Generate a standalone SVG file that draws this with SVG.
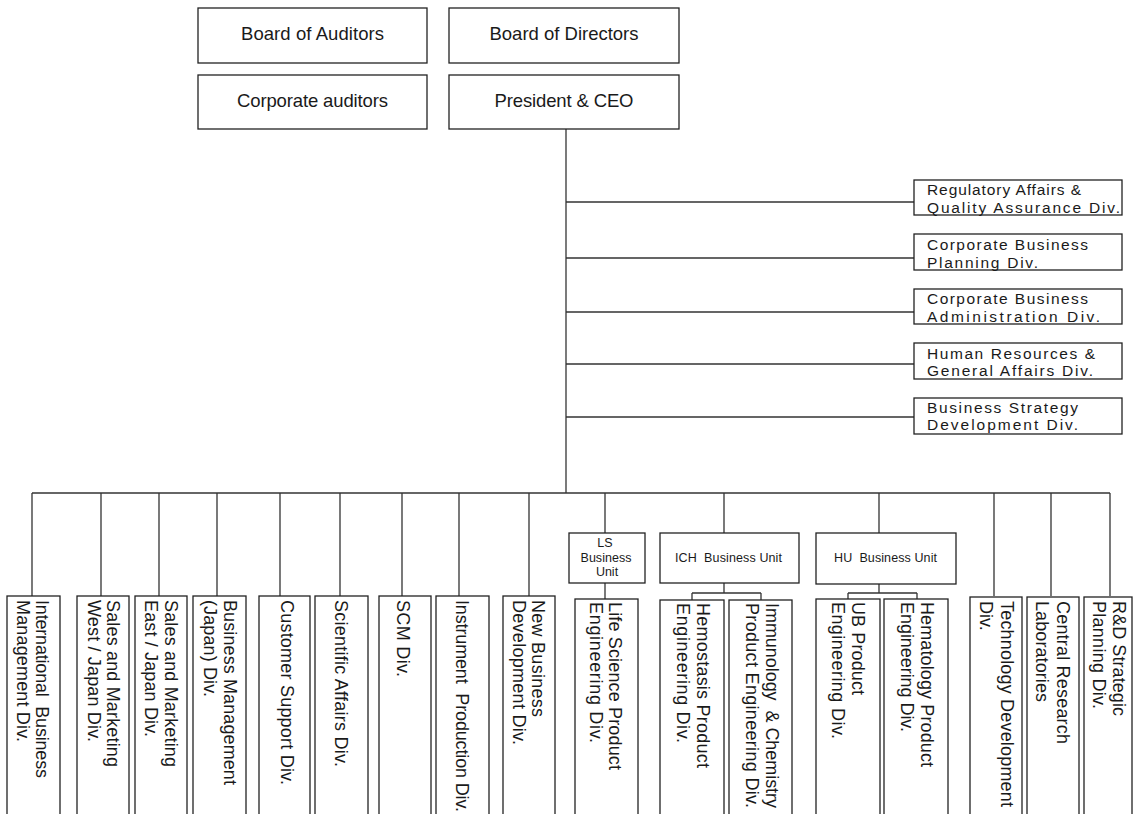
<svg xmlns="http://www.w3.org/2000/svg" width="1134" height="814" viewBox="0 0 1134 814">
<style>
.bx{fill:#fff;stroke:#222;stroke-width:1.3}
.ln{fill:none;stroke:#333;stroke-width:1.3}
text{font-family:"Liberation Sans",Arial,sans-serif;fill:#1a1a1a}
.t{font-size:18.5px;text-anchor:middle}
.r{font-size:15.5px}
.v{font-size:18px}
.u{font-size:12.5px;text-anchor:middle}
</style>
<rect width="1134" height="814" fill="#fff"/>
<g id="connectors">
<path class="ln" d="M566 129V493"/>
<path class="ln" d="M566 202H914M566 258H914M566 312H914M566 364H914M566 417H914"/>
<path class="ln" d="M32 493H1110"/>
<path class="ln" d="M32 493V596M101 493V596M159 493V596M217 493V596M280 493V596M340 493V596M402 493V596M459 493V596M529 493V596M994 493V596M1051 493V596M1110 493V596"/>
<path class="ln" d="M605 493V533M724 493V533M879 493V533"/>
<path class="ln" d="M605 583V599"/>
<path class="ln" d="M724 583V593M692 593H761M692 593V600M761 593V600"/>
<path class="ln" d="M879 584V593M848 593H917M848 593V599M917 593V599"/>
</g>
<g id="board-auditors"><rect class="bx" x="198" y="8" width="229" height="55"/><text class="t" x="312.5" y="40" textLength="143">Board of Auditors</text></g>
<g id="board-directors"><rect class="bx" x="449" y="8" width="230" height="55"/><text class="t" x="564" y="40" textLength="149">Board of Directors</text></g>
<g id="corporate-auditors"><rect class="bx" x="198" y="75" width="229" height="54"/><text class="t" x="312.5" y="107" textLength="151">Corporate auditors</text></g>
<g id="president"><rect class="bx" x="449" y="75" width="230" height="54"/><text class="t" x="564" y="107" textLength="139">President &amp; CEO</text></g>

<g id="regulatory"><rect class="bx" x="914" y="180" width="208" height="35"/><text class="r" x="927" y="195" textLength="154">Regulatory Affairs &amp;</text><text class="r" x="927" y="212.5" textLength="193">Quality Assurance Div.</text></g>
<g id="corp-planning"><rect class="bx" x="914" y="234" width="208" height="36"/><text class="r" x="927" y="250" textLength="161">Corporate Business</text><text class="r" x="927" y="267.5" textLength="111">Planning Div.</text></g>
<g id="corp-admin"><rect class="bx" x="914" y="289" width="208" height="35"/><text class="r" x="927" y="304" textLength="161">Corporate Business</text><text class="r" x="927" y="321.5" textLength="173">Administration Div.</text></g>
<g id="hr"><rect class="bx" x="914" y="343" width="208" height="36"/><text class="r" x="927" y="358.5" textLength="168">Human Resources &amp;</text><text class="r" x="927" y="376" textLength="166">General Affairs Div.</text></g>
<g id="bsd"><rect class="bx" x="914" y="398" width="208" height="36"/><text class="r" x="927" y="412.5" textLength="151">Business Strategy</text><text class="r" x="927" y="430" textLength="151">Development Div.</text></g>

<g id="ls-unit"><rect class="bx" x="569" y="533" width="76" height="50"/><text class="u" x="605" y="547">LS</text><text class="u" x="606" y="562" textLength="51">Business</text><text class="u" x="607" y="576">Unit</text></g>
<g id="ich-unit"><rect class="bx" x="660" y="533" width="139" height="50"/><text class="u" x="728.5" y="562" textLength="107" xml:space="preserve">ICH  Business Unit</text></g>
<g id="hu-unit"><rect class="bx" x="816" y="533" width="140" height="51"/><text class="u" x="885.5" y="562" textLength="103" xml:space="preserve">HU  Business Unit</text></g>

<g id="intl"><rect class="bx" x="7" y="596" width="53" height="240"/><text class="v" transform="translate(36,600) rotate(90)" textLength="178" xml:space="preserve">International  Business</text><text class="v" transform="translate(17,600) rotate(90)" textLength="142">Management Div.</text></g>
<g id="sales-west"><rect class="bx" x="77" y="596" width="52" height="240"/><text class="v" transform="translate(107,600) rotate(90)" textLength="167">Sales and Marketing</text><text class="v" transform="translate(88,600) rotate(90)" textLength="142">West / Japan Div.</text></g>
<g id="sales-east"><rect class="bx" x="135" y="596" width="52" height="240"/><text class="v" transform="translate(165,600) rotate(90)" textLength="167">Sales and Marketing</text><text class="v" transform="translate(145,600) rotate(90)" textLength="137">East / Japan Div.</text></g>
<g id="bm-japan"><rect class="bx" x="193" y="596" width="53" height="240"/><text class="v" transform="translate(224,600) rotate(90)" textLength="185">Business Management</text><text class="v" transform="translate(204,600) rotate(90)" textLength="97">(Japan) Div.</text></g>
<g id="customer"><rect class="bx" x="259" y="596" width="51" height="240"/><text class="v" transform="translate(281,600) rotate(90)" textLength="185">Customer Support Div.</text></g>
<g id="scientific"><rect class="bx" x="315" y="596" width="53" height="240"/><text class="v" transform="translate(335,600) rotate(90)" textLength="167">Scientific Affairs Div.</text></g>
<g id="scm"><rect class="bx" x="379" y="596" width="52" height="240"/><text class="v" transform="translate(397,600) rotate(90)" textLength="77">SCM Div.</text></g>
<g id="instrument"><rect class="bx" x="436" y="596" width="53" height="240"/><text class="v" transform="translate(456,600) rotate(90)" textLength="212" xml:space="preserve">Instrument  Production Div.</text></g>
<g id="new-business"><rect class="bx" x="503" y="596" width="52" height="240"/><text class="v" transform="translate(532,600) rotate(90)" textLength="117">New Business</text><text class="v" transform="translate(513,600) rotate(90)" textLength="145">Development Div.</text></g>
<g id="life-science"><rect class="bx" x="575" y="599" width="63" height="240"/><text class="v" transform="translate(609,602) rotate(90)" textLength="168">Life Science Product</text><text class="v" transform="translate(590,602) rotate(90)" textLength="141">Engineering Div.</text></g>
<g id="hemostasis"><rect class="bx" x="660" y="600" width="64" height="240"/><text class="v" transform="translate(697,603) rotate(90)" textLength="165">Hemostasis Product</text><text class="v" transform="translate(677,603) rotate(90)" textLength="140">Engineering Div.</text></g>
<g id="immunology"><rect class="bx" x="729" y="600" width="63" height="240"/><text class="v" transform="translate(766,603) rotate(90)" textLength="205" xml:space="preserve">Immunology  &amp; Chemistry</text><text class="v" transform="translate(746,603) rotate(90)" textLength="205">Product Engineering Div.</text></g>
<g id="ub"><rect class="bx" x="816" y="599" width="64" height="240"/><text class="v" transform="translate(852,602) rotate(90)" textLength="93">UB Product</text><text class="v" transform="translate(832,602) rotate(90)" textLength="137">Engineering Div.</text></g>
<g id="hematology"><rect class="bx" x="884" y="599" width="64" height="240"/><text class="v" transform="translate(921,602) rotate(90)" textLength="165">Hematology Product</text><text class="v" transform="translate(901,602) rotate(90)" textLength="130">Engineering Div.</text></g>
<g id="technology"><rect class="bx" x="970" y="597" width="52" height="240"/><text class="v" transform="translate(1001,601) rotate(90)" textLength="206">Technology Development</text><text class="v" transform="translate(980,601) rotate(90)">Div.</text></g>
<g id="central-research"><rect class="bx" x="1027" y="597" width="52" height="240"/><text class="v" transform="translate(1057,601) rotate(90)" textLength="143">Central Research</text><text class="v" transform="translate(1036,601) rotate(90)" textLength="101">Laboratories</text></g>
<g id="rd-strategic"><rect class="bx" x="1084" y="597" width="48" height="240"/><text class="v" transform="translate(1113,601) rotate(90)" textLength="115">R&amp;D Strategic</text><text class="v" transform="translate(1093,601) rotate(90)" textLength="108">Planning Div.</text></g>
</svg>
